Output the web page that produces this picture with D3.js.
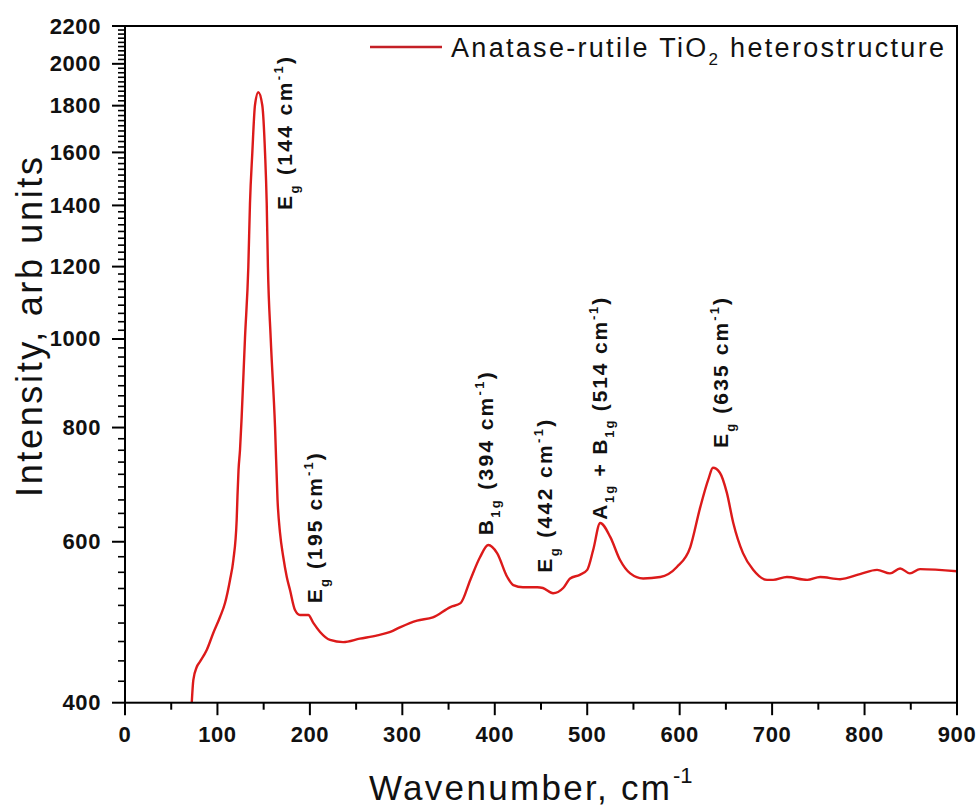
<!DOCTYPE html>
<html><head><meta charset="utf-8">
<script src="https://cdn.jsdelivr.net/npm/d3@7"></script>
<style>
html,body{margin:0;padding:0;background:#fff;}
svg{display:block;font-family:"Liberation Sans",Arial,sans-serif;}
</style></head>
<body>
<svg id="chart" width="980" height="810"></svg>
<script>
// Raman spectrum (wavenumber in cm-1, intensity in arb units)
const wavenumber = [72.2,73.9,77.6,81.1,88.4,95.5,102.8,108.2,113.6,117.2,120.8,121.7,122.8,124.4,126.2,129.8,133.4,135.2,137.7,140.6,144.2,148.5,151.5,153.3,154.6,157.6,162.3,165,167.7,171.2,175,178.5,183.9,189.3,198.3,203.7,211,221.8,236,254,273,287,298,316,333,352,363,373.5,384,393,402.5,413.5,420,430.5,446,452,463,474,481.5,492,500,506.5,514,525,535.5,546.5,560.5,579,597,611.5,622,631,636,643.5,651,658,668.5,679.5,694.5,701,716,738,752,773.5,795,813.5,827.5,838.5,849,860,900];
const intensity  = [400,423.5,437.6,443.5,456.8,476.8,496.4,514.2,544.9,573,633.8,674.8,718.8,756,821.7,1002.5,1199,1408,1597,1802,1862,1802,1597,1408,1199,1002.5,801,666.5,613.4,577.4,549,531.3,505.2,498.9,498.9,489,478,468.5,466,470,474,478,484,492,496,509,514,545,577,595,583,549,538,535,535,534,527,534,547,552,559,588,629,607,573,554,547,549,563,592,653,702,723,714,679,629,583,559,545,545,549,545,549,546,553,559,554,561,554,560,557];

const xTicks = [0,100,200,300,400,500,600,700,800,900];
const yTicks = [400,600,800,1000,1200,1400,1600,1800,2000,2200];
const seriesName = ["Anatase-rutile TiO", "2", " heterostructure"];

// peak annotations: text parts, anchor (wavenumber, intensity) and text length
const annotations = [
  {parts:[["E",""],["g","sub"],[" (144 cm",""],["-1","sup"],[")",""]], wn:180.7, iv:1384, len:153},
  {parts:[["E",""],["g","sub"],[" (195 cm",""],["-1","sup"],[")",""]], wn:213.1, iv:514, len:150},
  {parts:[["B",""],["1g","sub"],[" (394 cm",""],["-1","sup"],[")",""]], wn:398.1, iv:610, len:163},
  {parts:[["E",""],["g","sub"],[" (442 cm",""],["-1","sup"],[")",""]], wn:461.9, iv:555, len:153},
  {parts:[["A",""],["1g","sub"],[" + B",""],["1g","sub"],[" (514 cm",""],["-1","sup"],[")",""]], wn:521.4, iv:634, len:222},
  {parts:[["E",""],["g","sub"],[" (635 cm",""],["-1","sup"],[")",""]], wn:652.3, iv:760, len:150}
];

const svg = d3.select("#chart");
const L = 125, R = 957, T = 26, B = 702.7;
const x = d3.scaleLinear().domain([0,900]).range([L,R]);
const y = d3.scaleLog().domain([400,2200]).range([B,T]);
const lineColor = "#dc1a1a";

svg.append("clipPath").attr("id","clip").append("rect")
  .attr("x",L).attr("y",T).attr("width",R-L).attr("height",B-T);

// curve
const data = wavenumber.map((w,i)=>[w,intensity[i]]);
svg.append("path").datum(data)
  .attr("clip-path","url(#clip)")
  .attr("fill","none").attr("stroke",lineColor).attr("stroke-width",2.4)
  .attr("stroke-linejoin","round")
  .attr("d", d3.line().x(d=>x(d[0])).y(d=>y(d[1])).curve(d3.curveMonotoneX));

// frame
svg.append("rect").attr("x",L).attr("y",T).attr("width",R-L).attr("height",B-T)
  .attr("fill","none").attr("stroke","#000").attr("stroke-width",2);

// x axis ticks
const xMinor = d3.range(50,900,100);
const gx = svg.append("g");
gx.selectAll("line.maj").data(xTicks).join("line")
  .attr("x1",d=>x(d)).attr("x2",d=>x(d)).attr("y1",B).attr("y2",B+12.5)
  .attr("stroke","#000").attr("stroke-width",2);
gx.selectAll("line.min").data(xMinor).join("line")
  .attr("x1",d=>x(d)).attr("x2",d=>x(d)).attr("y1",B).attr("y2",B+7)
  .attr("stroke","#000").attr("stroke-width",2);
gx.selectAll("text").data(xTicks).join("text")
  .attr("x",d=>x(d)).attr("y",742)
  .attr("text-anchor","middle").attr("font-size",22).attr("font-weight","bold")
  .attr("letter-spacing",0.6).attr("fill","#111")
  .text(d=>d);

// y axis ticks (8 minor ticks between majors)
const yMinor = [];
for (let i=0;i<yTicks.length-1;i++){
  const a=yTicks[i], b=yTicks[i+1];
  for (let k=1;k<=8;k++) yMinor.push(a+(b-a)*k/9);
}
const gy = svg.append("g");
gy.selectAll("line.maj").data(yTicks).join("line")
  .attr("x1",L-13).attr("x2",L).attr("y1",d=>y(d)).attr("y2",d=>y(d))
  .attr("stroke","#000").attr("stroke-width",2);
gy.selectAll("line.min").data(yMinor).join("line")
  .attr("x1",L-7).attr("x2",L).attr("y1",d=>y(d)).attr("y2",d=>y(d))
  .attr("stroke","#000").attr("stroke-width",1.6);
gy.selectAll("text").data(yTicks).join("text")
  .attr("x",101).attr("y",d=>y(d)+7.5)
  .attr("text-anchor","end").attr("font-size",22).attr("font-weight","bold")
  .attr("letter-spacing",0.6).attr("fill","#111")
  .text(d=>d);

// axis titles
svg.append("text").attr("x",369).attr("y",800)
  .attr("font-size",35).attr("fill","#111")
  .attr("textLength",301).attr("lengthAdjust","spacing")
  .text("Wavenumber, cm");
svg.append("text").attr("x",673).attr("y",783)
  .attr("font-size",22).attr("fill","#111").text("-1");

svg.append("text")
  .attr("transform","translate(42,327) rotate(-90)")
  .attr("text-anchor","middle").attr("font-size",36).attr("fill","#111")
  .attr("textLength",340).attr("lengthAdjust","spacing")
  .text("Intensity, arb units");

// legend
svg.append("line").attr("x1",370).attr("x2",442).attr("y1",47).attr("y2",47)
  .attr("stroke","#c42026").attr("stroke-width",2.6);
const lt = svg.append("text").attr("x",451).attr("y",57)
  .attr("font-size",27).attr("fill","#111")
  .attr("textLength",493).attr("lengthAdjust","spacing");
lt.append("tspan").text(seriesName[0]);
lt.append("tspan").attr("font-size",17).attr("dy",8).text(seriesName[1]);
lt.append("tspan").attr("dy",-8).text(seriesName[2]);

// annotations
annotations.forEach(a=>{
  const t = svg.append("text")
    .attr("transform",`translate(${x(a.wn)},${y(a.iv)}) rotate(-90)`)
    .attr("font-size",21).attr("font-weight","bold").attr("fill","#111")
    .attr("textLength",a.len).attr("lengthAdjust","spacing");
  let shift = 0;
  a.parts.forEach(([s,kind])=>{
    const target = kind==="sub"?7:(kind==="sup"?-9:0);
    const sp = t.append("tspan").attr("dy",target-shift).text(s);
    if (kind) sp.attr("font-size",13);
    shift = target;
  });
});
</script>
</body></html>
